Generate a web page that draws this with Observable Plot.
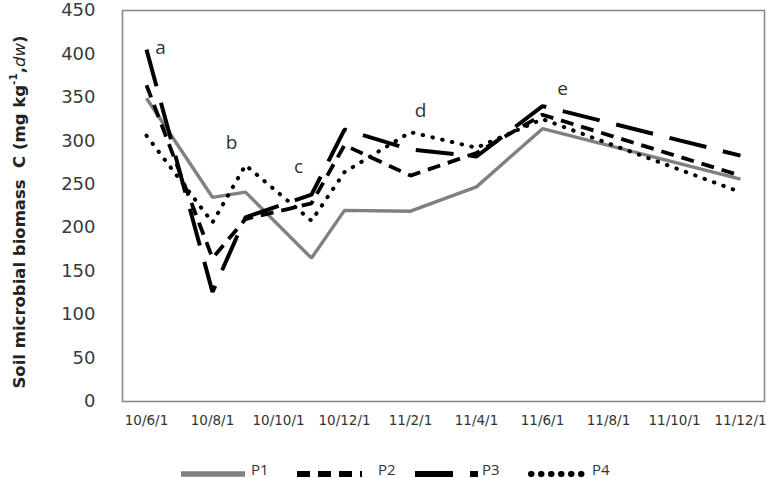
<!DOCTYPE html>
<html><head><meta charset="utf-8">
<script src="https://cdn.jsdelivr.net/npm/d3@7"></script>
<script src="https://cdn.jsdelivr.net/npm/@observablehq/plot@0.6"></script>
<style>
body{margin:0;background:#fff;width:767px;height:478px;overflow:hidden;font-family:"DejaVu Sans",sans-serif}
#legend svg{display:block}
</style></head><body><div id="chart"></div><div id="legend"></div>
<script>
// month slots on the category/date axis (yy/m/d)
const months = ["10/6/1","10/7/1","10/8/1","10/9/1","10/10/1","10/11/1","10/12/1","11/1/1","11/2/1","11/3/1","11/4/1","11/5/1","11/6/1","11/7/1","11/8/1","11/9/1","11/10/1","11/11/1","11/12/1"];
const tickLabels = ["10/6/1","10/8/1","10/10/1","10/12/1","11/2/1","11/4/1","11/6/1","11/8/1","11/10/1","11/12/1"];
const yTicks = [0,50,100,150,200,250,300,350,400,450];
const sampleDates = ["10/6/1","10/8/1","10/9/1","10/11/1","10/12/1","11/2/1","11/4/1","11/6/1","11/12/1"];
const seriesNames = ["P1","P2","P3","P4"];
const P1 = [349, 235, 241, 165, 220, 219, 247, 314, 256];
const P2 = [364, 165, 210, 228, 295, 260, 286, 330, 260];
const P3 = [405, 126, 212, 238, 313, 290, 282, 340, 283];
const P4 = [306, 206, 272, 208, 264, 310, 292, 325, 241];
const annotLabels = ["a","b","c","d","e"];
const annotDates = ["10/6/1","10/8/1","10/11/1","11/2/1","11/6/1"];
const annotValues = [407, 298, 270, 335, 360];

const values = {P1, P2, P3, P4};
const styleOf = {
  P1: {stroke: "#808080", strokeWidth: 3.4, dash: null, cap: "butt"},
  P2: {stroke: "#000", strokeWidth: 3.8, dash: "13,8", cap: "butt"},
  P3: {stroke: "#000", strokeWidth: 4, dash: "38,17", cap: "butt"},
  P4: {stroke: "#000", strokeWidth: 4, dash: "0.5,9.5", cap: "round"}
};
const rows = name => sampleDates.map((d, i) => ({date: d, value: values[name][i], series: name}));
const annots = annotLabels.map((t, i) => ({t, date: annotDates[i], value: annotValues[i]}));
const annotDx = [14, 19, -13, 10, 20];

const H = 445;
const font = "DejaVu Sans, sans-serif";
const lineMarks = seriesNames.map(n => Plot.line(rows(n), {
  x: "date", y: "value", stroke: styleOf[n].stroke, strokeWidth: styleOf[n].strokeWidth,
  strokeDasharray: styleOf[n].dash, strokeLinecap: styleOf[n].cap, strokeLinejoin: "miter"
}));

const chart = Plot.plot({
  width: 767, height: H,
  marginLeft: 122, marginRight: 3, marginTop: 10, marginBottom: H - 401,
  x: {type: "point", domain: months, padding: 0.5, label: null},
  y: {domain: [0, 450], label: null},
  style: {fontFamily: font, background: "white", overflow: "visible"},
  marks: [
    Plot.axisY({ticks: yTicks, tickSize: 0, tickPadding: 27, fontSize: 18, fill: "#3a3a3a", label: null}),
    Plot.axisX({ticks: tickLabels, tickSize: 0, tickPadding: 14, fontSize: 13.5, fill: "#333", label: null}),
    ...lineMarks,
    Plot.frame({stroke: "#8a8a8a", strokeWidth: 1.6}),
    ...annots.map((a, i) => Plot.text([a], {x: "date", y: "value", text: "t", dx: annotDx[i],
      fontSize: 19, fill: "#333", fontFamily: "Open Sans, sans-serif", lineAnchor: "middle"}))
  ]
});
document.getElementById("chart").appendChild(chart);

// y-axis title with superscript
const svg = d3.select(chart);
const t = svg.append("text")
  .attr("transform", "translate(19,212) rotate(-90)")
  .attr("text-anchor", "middle").attr("dominant-baseline", "central")
  .attr("font-family", font).attr("font-weight", "bold").attr("font-size", 16.5).attr("fill", "#222");
t.append("tspan").text("Soil microbial biomass  C (mg kg");
t.append("tspan").attr("baseline-shift", "super").attr("font-size", 10.5).text("-1");
t.append("tspan").text(",");
t.append("tspan").attr("font-style", "italic").attr("font-weight", "normal").text("dw");
t.append("tspan").text(")");

// legend below the chart
const legendPos = [
  {name: "P1", x0: 181, x1: 245, tx: 251},
  {name: "P2", x0: 297, x1: 362, tx: 378},
  {name: "P3", x0: 415, x1: 478, tx: 482},
  {name: "P4", x0: 531, x1: 587, tx: 592}
];
const lg = d3.select("#legend").append("svg").attr("width", 767).attr("height", 33);
legendPos.forEach(p => {
  const s = styleOf[p.name];
  lg.append("line").attr("x1", p.x0).attr("x2", p.x1).attr("y1", 29).attr("y2", 29)
    .attr("stroke", s.stroke).attr("stroke-width", s.strokeWidth + 2)
    .attr("stroke-dasharray", s.dash).attr("stroke-linecap", s.cap);
  lg.append("text").attr("x", p.tx).attr("y", 30).attr("font-family", "Open Sans, sans-serif")
    .attr("font-size", 15).attr("fill", "#333").text(p.name);
});
</script></body></html>
